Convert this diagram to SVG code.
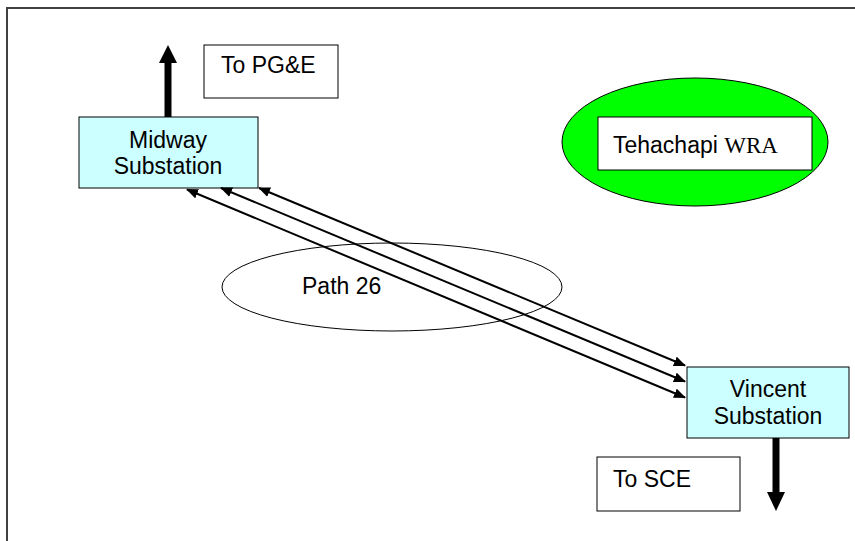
<svg xmlns="http://www.w3.org/2000/svg" width="855" height="541" viewBox="0 0 855 541">
<defs>
<style>
.t{font-family:"Liberation Sans",Arial,sans-serif;font-size:23px;fill:#000}
.serif{font-family:"Liberation Serif","Times New Roman",serif}
.box{fill:#fff;stroke:#000;stroke-width:1}
.sub{fill:#CCFFFF;stroke:#000;stroke-width:1}
.link{stroke:#000;stroke-width:2;fill:none;marker-start:url(#ah);marker-end:url(#ah)}
.big{stroke:#000;stroke-width:7;fill:none}
</style>
<marker id="ah" viewBox="0 0 12 10" refX="11" refY="5" markerWidth="12" markerHeight="10" markerUnits="userSpaceOnUse" orient="auto-start-reverse">
<path d="M0,0 L12,5 L0,10 z" fill="#000"/>
</marker>
</defs>
<rect x="7" y="8" width="900" height="600" fill="#fff" stroke="#404040" stroke-width="2"/>
<g id="tehachapi">
<ellipse cx="695" cy="142" rx="133" ry="64" fill="#00FF00" stroke="#000" stroke-width="1"/>
<rect class="box" x="598" y="117" width="214" height="53"/>
<text class="t" x="613" y="153">Tehachapi <tspan class="serif">WRA</tspan></text>
</g>
<g id="path26">
<ellipse cx="392" cy="287" rx="170" ry="44" fill="none" stroke="#000" stroke-width="1"/>
<text class="t" x="302" y="294">Path 26</text>
</g>
<g id="to-pge">
<rect class="box" x="204" y="45" width="134" height="53"/>
<text class="t" x="221" y="73">To PG&amp;E</text>
</g>
<g id="to-sce">
<rect class="box" x="597" y="457" width="143" height="54"/>
<text class="t" x="613" y="487">To SCE</text>
</g>
<g id="midway">
<rect class="sub" x="79" y="117" width="179" height="71"/>
<text class="t" text-anchor="middle" x="168" y="148">Midway</text>
<text class="t" text-anchor="middle" x="168" y="174">Substation</text>
</g>
<g id="vincent">
<rect class="sub" x="687" y="367" width="162" height="71"/>
<text class="t" text-anchor="middle" x="768" y="397">Vincent</text>
<text class="t" text-anchor="middle" x="768" y="424">Substation</text>
</g>
<g id="connectors">
<line class="link" x1="259" y1="188" x2="685" y2="365.5"/>
<line class="link" x1="221" y1="188" x2="685" y2="381.5"/>
<line class="link" x1="187" y1="189.5" x2="685" y2="397.5"/>
<path class="big" d="M168,117 V62"/>
<path d="M159,63 L168,45 L177,63 z" fill="#000"/>
<path class="big" d="M776,438 V493"/>
<path d="M767,492 L776,511 L785,492 z" fill="#000"/>
</g>
</svg>
